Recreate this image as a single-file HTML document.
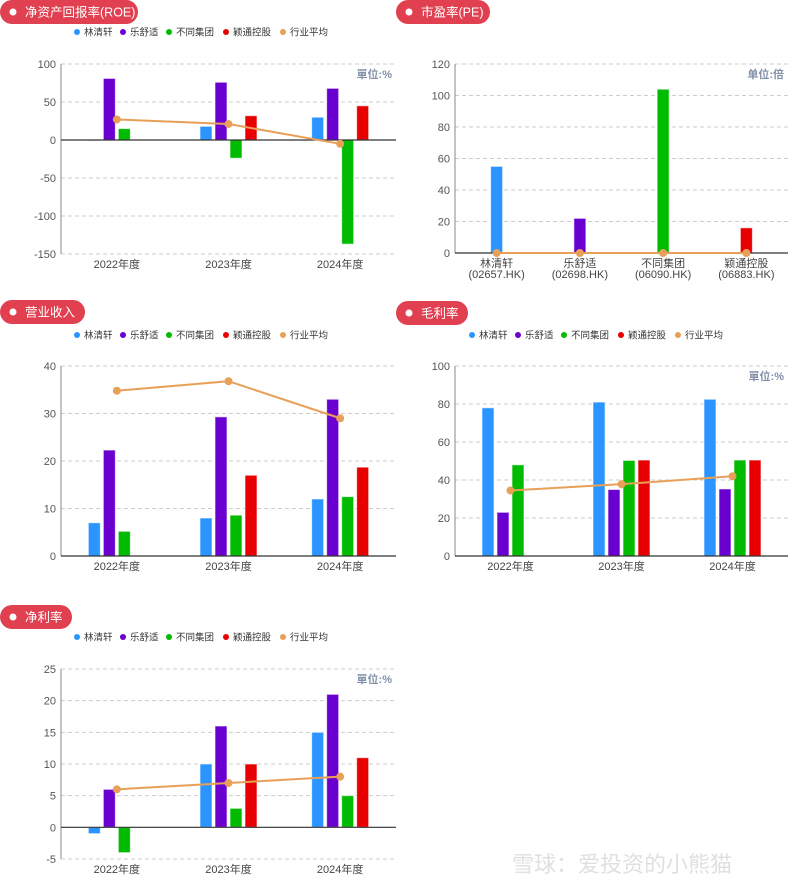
<!DOCTYPE html>
<html><head><meta charset="utf-8">
<style>
body{margin:0;background:#fff;width:788px;height:889px;overflow:hidden;font-family:"Liberation Sans","Noto Sans CJK SC",sans-serif;}
svg{display:block}
</style></head>
<body>
<svg id="s" width="788" height="889" xmlns="http://www.w3.org/2000/svg" font-family="Liberation Sans, Noto Sans CJK SC, sans-serif"></svg>
<script>
const years = ["2022年度","2023年度","2024年度"];
const companies = ["林清轩","乐舒适","不同集团","颖通控股"];
const seriesNames = ["林清轩","乐舒适","不同集团","颖通控股","行业平均"];
const colors = ["#2b95ff","#6a00d0","#00bb00","#e80000","#e8a058"];
// ROE
const roeBlue=[-1,18,30], roePurple=[81,76,68], roeGreen=[15,-24,-137], roeRed=[null,32,45], roeAvg=[27,21,-5];
const roeTicks=[100,50,0,-50,-100,-150];
// PE
const peCats=["林清轩\n(02657.HK)","乐舒适\n(02698.HK)","不同集团\n(06090.HK)","颖通控股\n(06883.HK)"];
const peValues=[55,22,104,16], peAvg=[0,0,0,0];
const peTicks=[120,100,80,60,40,20,0];
// Revenue
const revBlue=[7,8,12], revPurple=[22.3,29.3,33], revGreen=[5.2,8.6,12.5], revRed=[null,17,18.7], revAvg=[34.8,36.8,29];
const revTicks=[40,30,20,10,0];
// Gross margin
const gmBlue=[78,81,82.5], gmPurple=[23,35,35.3], gmGreen=[48,50.3,50.5], gmRed=[null,50.5,50.5], gmAvg=[34.5,37.8,42];
const gmTicks=[100,80,60,40,20,0];
// Net margin
const nmBlue=[-1,10,15], nmPurple=[6,16,21], nmGreen=[-4,3,5], nmRed=[null,10,11], nmAvg=[6,7,8];
const nmTicks=[25,20,15,10,5,0,-5];

const NS="http://www.w3.org/2000/svg", S=document.getElementById('s');
function el(tag,attrs,parent,text){const e=document.createElementNS(NS,tag);for(const k in attrs)e.setAttribute(k,attrs[k]);if(text!=null)e.textContent=text;(parent||S).appendChild(e);return e;}

function pill(x,y,w,label,name){
  const g=el('g',{});
  
  
  el('rect',{x:x,y:y,width:w,height:24,rx:12,fill:'#e04050'},g);
  el('circle',{cx:x+13,cy:y+12,r:3.5,fill:'#fff'},g);
  el('text',{x:x+25,y:y+16.5,fill:'#fff','font-size':12.5},g,label);
}
function legend(cx,y,name){
  const g=el('g',{});
  
  
  const widths=[46,46,57,57,46];
  let total=widths.reduce((a,b)=>a+b,0), x=cx-total/2;
  seriesNames.forEach((n,i)=>{
    const it=el('g',{},g);
    
    
    el('circle',{cx:x+4,cy:y,r:3,fill:colors[i]},it);
    el('text',{x:x+11,y:y+3.5,'font-size':9.5,fill:'#333'},it,n);
    x+=widths[i];
  });
}
function chart(o){
  const g=el('g',{});
  
  
  const min=o.ticks[o.ticks.length-1], max=o.ticks[0];
  const yS=v=>o.bottom-(v-min)/(max-min)*(o.bottom-o.top);
  const n=o.cats.length, cw=(o.right-o.left)/n;
  const xC=i=>o.left+cw*(i+0.5);
  o.ticks.forEach(t=>{
    const y=yS(t);
    el('line',{x1:o.left,x2:o.right,y1:y,y2:y,stroke:'#ccc','stroke-dasharray':'4,3'},g);
    const tl=el('text',{x:o.left-5,y:y+4,'text-anchor':'end','font-size':11,fill:'#555'},g,String(t));
    
  });
  el('line',{x1:o.left,x2:o.left,y1:o.top,y2:o.bottom,stroke:'#888'},g);
  const bw=12,pitch=15;
  o.series.forEach((arr,si)=>{
    const k=o.series.length;
    arr.forEach((v,i)=>{
      if(v==null) return;
      const x=xC(i)+(o.single?0:(si-(k-1)/2)*pitch)-bw/2;
      const y0=yS(0), y1=yS(v);
      const r=el('rect',{x:x,y:Math.min(y0,y1),width:bw,height:Math.abs(y1-y0),fill:colors[o.colorIdx?o.colorIdx[i]:si],stroke:'rgba(255,255,255,0.6)','stroke-width':1},g);
      
      
    });
  });
  el('line',{x1:o.left,x2:o.right,y1:yS(0),y2:yS(0),stroke:'#333','stroke-width':1.2},g);
  const pts=o.avg.map((v,i)=>[xC(i),yS(v)]);
  el('polyline',{points:pts.map(p=>p.join(',')).join(' '),fill:'none',stroke:'#e8a058','stroke-width':2},g);
  pts.forEach(p=>{
    const c=el('circle',{cx:p[0],cy:p[1],r:4,fill:'#e8a058'},g);
    
    
  });
  o.cats.forEach((c,i)=>{
    c.split('\n').forEach((ln,j)=>{
      const t=el('text',{x:xC(i),y:o.bottom+14+j*11,'text-anchor':'middle','font-size':11,fill:'#444'},g,ln);
      
    });
  });
  const u=el('text',{x:o.right-4,y:o.top+14,'text-anchor':'end','font-size':11,'font-weight':'bold',fill:'#8090a8'},g,o.unit);
  
}

pill(0,0,138,'净资产回报率(ROE)','roe-title');
legend(199,32,'roe-legend');
chart({name:'roe-chart',left:61,right:396,top:64,bottom:254,ticks:roeTicks,cats:years,series:[roeBlue,roePurple,roeGreen,roeRed],avg:roeAvg,unit:'單位:%'});

pill(396,0,94,'市盈率(PE)','pe-title');
chart({name:'pe-chart',left:455,right:788,top:64,bottom:253,ticks:peTicks,cats:peCats,series:[peValues],single:true,colorIdx:[0,1,2,3],avg:peAvg,unit:'单位:倍'});

pill(0,300,85,'营业收入','revenue-title');
legend(199,335,'revenue-legend');
chart({name:'revenue-chart',left:61,right:396,top:366,bottom:556,ticks:revTicks,cats:years,series:[revBlue,revPurple,revGreen,revRed],avg:revAvg,unit:''});

pill(396,301,72,'毛利率','gross-margin-title');
legend(594,335,'gross-margin-legend');
chart({name:'gross-margin-chart',left:455,right:788,top:366,bottom:556,ticks:gmTicks,cats:years,series:[gmBlue,gmPurple,gmGreen,gmRed],avg:gmAvg,unit:'單位:%'});

pill(0,605,72,'净利率','net-margin-title');
legend(199,637,'net-margin-legend');
chart({name:'net-margin-chart',left:61,right:396,top:669,bottom:859,ticks:nmTicks,cats:years,series:[nmBlue,nmPurple,nmGreen,nmRed],avg:nmAvg,unit:'單位:%'});

const wm=el('text',{x:512,y:872,'font-size':22,fill:'#e0e0e0'},S,'雪球：爱投资的小熊猫');


</script>
</body></html>
